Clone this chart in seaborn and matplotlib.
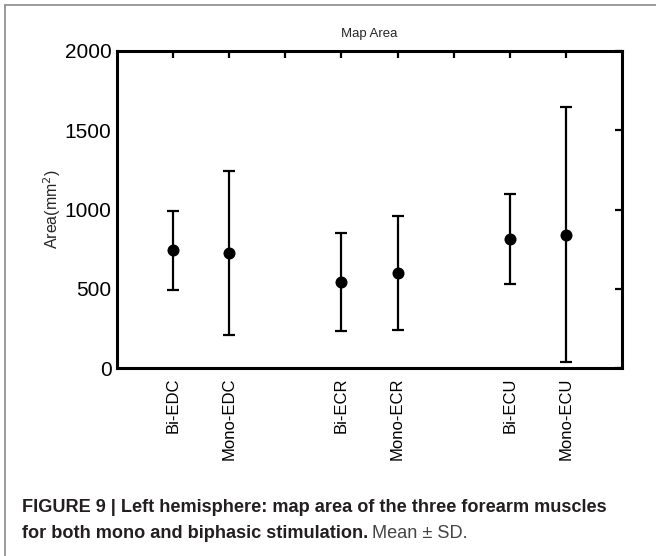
import matplotlib
matplotlib.use("Agg")
import matplotlib.pyplot as plt
import seaborn as sns
import pandas as pd
from matplotlib.lines import Line2D

# ---- data ----
tick_labels = ["Bi-EDC", "Mono-EDC", "", "Bi-ECR", "Mono-ECR", "", "Bi-ECU", "Mono-ECU"]
conditions = ["Bi-EDC", "Mono-EDC", "Bi-ECR", "Mono-ECR", "Bi-ECU", "Mono-ECU"]
mean_area = [742, 726, 542, 599, 815, 842]
sd_area = [250, 519, 307, 359, 282, 807]
y_ticks = [0, 500, 1000, 1500, 2000]

sns.set_style("white")
plt.rcParams["font.family"] = ["Liberation Sans", "DejaVu Sans"]

pos = [tick_labels.index(c) + 1 for c in conditions]
df = pd.DataFrame({"x": pos, "mean": mean_area, "sd": sd_area})

fig = plt.figure(figsize=(6.56, 5.56), dpi=100)
ax = fig.add_axes([117 / 656, 1 - 368 / 556, (622 - 117) / 656, (368 - 51) / 556])

ax.errorbar(df["x"], df["mean"], yerr=df["sd"], fmt="none", ecolor="black",
            elinewidth=1.6, capsize=4.5, capthick=1.6, zorder=2)
sns.scatterplot(data=df, x="x", y="mean", ax=ax, color="black", s=75,
                edgecolor="black", linewidth=0, zorder=3, legend=False)

ax.set_xlim(0, 9)
ax.set_ylim(0, 2000)
ax.set_xticks(range(1, len(tick_labels) + 1))
ax.set_xticklabels(tick_labels, rotation=90, fontsize=12)
ax.set_yticks(y_ticks)
ax.set_yticklabels([str(v) for v in y_ticks], fontsize=15)
ax.set_xlabel("")
ax.set_ylabel("Area(mm$^2$)", fontsize=11.5, labelpad=1)
ax.set_title("Map Area", fontsize=9.5, pad=10)

for s in ax.spines.values():
    s.set_visible(True)
    s.set_linewidth(2.2)
    s.set_color("black")
ax.tick_params(direction="in", length=5, width=1.6, top=True, right=True,
               labeltop=False, labelright=False, colors="black")
ax.tick_params(axis="x", pad=7)
ax.tick_params(axis="y", pad=4)

# outer frame (top and left gray lines)
fig.add_artist(Line2D([5 / 656, 1], [1 - 5 / 556, 1 - 5 / 556], color="#8a8a8a", lw=1.2,
                      transform=fig.transFigure))
fig.add_artist(Line2D([5 / 656, 5 / 656], [0, 1 - 5 / 556], color="#8a8a8a", lw=1.2,
                      transform=fig.transFigure))

# caption
cap_color = "#231f20"
fs = 13.1
fig.text(22 / 656, 1 - 507 / 556,
         "FIGURE 9 | Left hemisphere: map area of the three forearm muscles",
         fontsize=fs, fontweight="bold", color=cap_color, va="center", ha="left")
t2 = fig.text(22 / 656, 1 - 533 / 556, "for both mono and biphasic stimulation.",
              fontsize=fs, fontweight="bold", color=cap_color, va="center", ha="left")
fig.canvas.draw()
bb = t2.get_window_extent(renderer=fig.canvas.get_renderer())
fig.text(bb.x1 / fig.bbox.width + 4 / 656, 1 - 533 / 556, "Mean \u00b1 SD.",
         fontsize=fs, color="#444444", va="center", ha="left")

fig.savefig("out.png", dpi=100)
